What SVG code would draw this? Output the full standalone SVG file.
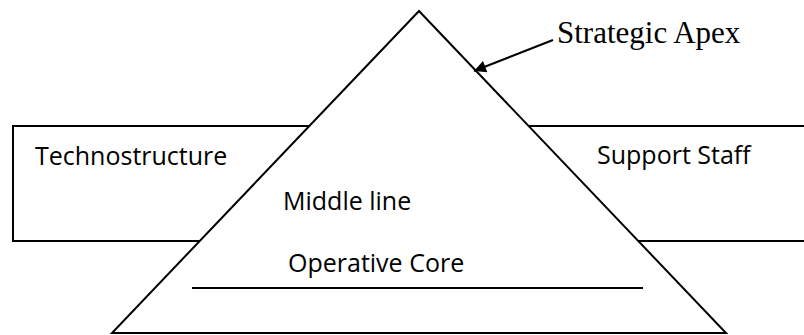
<svg xmlns="http://www.w3.org/2000/svg" width="804" height="335" viewBox="0 0 804 335">
<defs>
<style>
.ln{fill:none;stroke:#000;stroke-width:2}
.sh{fill:#fff;stroke:#000;stroke-width:2}
.t{font-family:"Open Sans","Liberation Sans",sans-serif;font-size:25px;fill:#000}
.s{font-family:"Liberation Serif","Times New Roman",serif;font-size:31px;fill:#000}
</style>
<marker id="ah" viewBox="0 0 10 10" refX="10" refY="5" markerWidth="15" markerHeight="12" markerUnits="userSpaceOnUse" orient="auto"><path d="M0,0 L10,5 L0,10 z" fill="#000"/></marker>
</defs>
<g id="staff-band">
<rect class="sh" x="13" y="126" width="800" height="115"/>
<text class="t" x="35" y="165">Technostructure</text>
<text class="t" x="597" y="164">Support Staff</text>
</g>
<g id="pyramid">
<polygon class="sh" points="419,11 726,333 112,333"/>
<text class="t" x="283" y="210">Middle line</text>
<text class="t" x="288" y="272">Operative Core</text>
<line class="ln" x1="192" y1="288" x2="643" y2="288"/>
</g>
<g id="connectors">
<line class="ln" x1="553" y1="40" x2="474" y2="71" marker-end="url(#ah)"/>
</g>
<g id="apex-label">
<text class="s" x="557" y="43">Strategic Apex</text>
</g>
</svg>
